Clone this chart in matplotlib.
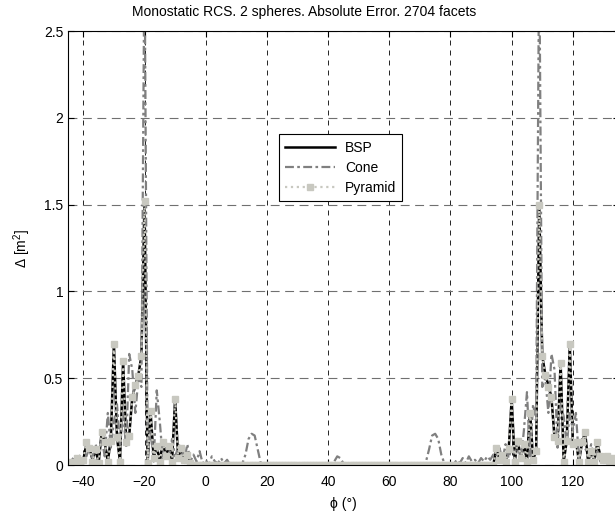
import numpy as np
import matplotlib
matplotlib.use("Agg")
import matplotlib.pyplot as plt

plt.rcParams["font.family"] = ["Liberation Sans", "DejaVu Sans"]
plt.rcParams["mathtext.fontset"] = "custom"
plt.rcParams["mathtext.rm"] = "Liberation Sans"
plt.rcParams["mathtext.it"] = "Liberation Sans:italic"

# incidence angle, 1 degree steps
phi = np.arange(-45, 136)

# phi = -45 .. -5
bsp_left = [0.01, 0.02, 0.00, 0.04, 0.01, 0.03, 0.12, 0.10, 0.03, 0.09,
            0.01, 0.19, 0.13, 0.02, 0.15, 0.70, 0.16, 0.02, 0.60, 0.14,
            0.17, 0.39, 0.46, 0.52, 0.63, 1.52, 0.01, 0.30, 0.04, 0.11,
            0.02, 0.13, 0.05, 0.11, 0.02, 0.38, 0.04, 0.10, 0.03, 0.07,
            0.01]
pyr_left = [0.01, 0.02, 0.01, 0.04, 0.01, 0.03, 0.13, 0.10, 0.02, 0.09,
            0.01, 0.19, 0.13, 0.02, 0.14, 0.70, 0.16, 0.02, 0.60, 0.13,
            0.17, 0.39, 0.46, 0.51, 0.63, 1.52, 0.01, 0.31, 0.04, 0.11,
            0.02, 0.13, 0.05, 0.11, 0.02, 0.38, 0.04, 0.10, 0.03, 0.06,
            0.01]
cone_left = [0.00, 0.02, 0.05, 0.01, 0.06, 0.03, 0.05, 0.10, 0.04, 0.12,
             0.06, 0.15, 0.05, 0.30, 0.10, 0.25, 0.35, 0.12, 0.30, 0.10,
             0.64, 0.55, 0.30, 0.50, 0.45, 3.00, 0.05, 0.20, 0.02, 0.43,
             0.25, 0.03, 0.10, 0.05, 0.15, 0.05, 0.10, 0.12, 0.03, 0.12,
             0.02]

# phi = -4 .. 94 (BSP and Pyramid are zero here)
cone_mid = [0.06, 0.02, 0.08, 0.01, 0.03, 0.00, 0.05, 0.02, 0.01, 0.04,
            0.01, 0.03, 0.00, 0.01, 0.00, 0.00, 0.01, 0.06, 0.15, 0.18,
            0.17, 0.09, 0.01, 0.00, 0.01, 0.00, 0.00, 0.00, 0.00, 0.00,
            0.00, 0.00, 0.00, 0.00, 0.00, 0.00, 0.00, 0.00, 0.00, 0.00,
            0.00, 0.00, 0.00, 0.00, 0.00, 0.00, 0.02, 0.05, 0.04, 0.01,
            0.00, 0.00, 0.00, 0.01, 0.00, 0.00, 0.00, 0.00, 0.00, 0.00,
            0.00, 0.00, 0.00, 0.00, 0.00, 0.00, 0.00, 0.00, 0.00, 0.00,
            0.00, 0.00, 0.00, 0.00, 0.01, 0.00, 0.02, 0.09, 0.17, 0.18,
            0.15, 0.06, 0.01, 0.00, 0.01, 0.00, 0.03, 0.01, 0.04, 0.01,
            0.05, 0.02, 0.03, 0.01, 0.04, 0.02, 0.05, 0.03, 0.06]

# phi = 95 .. 135
bsp_right = [0.10, 0.03, 0.06, 0.02, 0.08, 0.38, 0.02, 0.14, 0.04, 0.12,
             0.02, 0.31, 0.03, 0.08, 1.50, 0.63, 0.52, 0.46, 0.39, 0.16,
             0.14, 0.59, 0.02, 0.14, 0.70, 0.12, 0.14, 0.02, 0.13, 0.19,
             0.02, 0.08, 0.02, 0.13, 0.05, 0.03, 0.05, 0.02, 0.04, 0.01,
             0.02]
pyr_right = [0.10, 0.03, 0.06, 0.02, 0.09, 0.38, 0.02, 0.14, 0.04, 0.12,
             0.02, 0.30, 0.03, 0.08, 1.50, 0.63, 0.52, 0.45, 0.39, 0.16,
             0.14, 0.59, 0.02, 0.14, 0.70, 0.12, 0.13, 0.02, 0.13, 0.19,
             0.02, 0.08, 0.02, 0.13, 0.05, 0.03, 0.05, 0.02, 0.04, 0.01,
             0.02]
cone_right = [0.05, 0.10, 0.03, 0.12, 0.04, 0.10, 0.06, 0.15, 0.02, 0.20,
              0.42, 0.05, 0.35, 0.25, 3.00, 0.45, 0.50, 0.30, 0.64, 0.55,
              0.10, 0.35, 0.28, 0.12, 0.30, 0.20, 0.30, 0.03, 0.15, 0.10,
              0.05, 0.12, 0.03, 0.08, 0.02, 0.06, 0.01, 0.05, 0.02, 0.04,
              0.01]

mid_zeros = np.zeros(len(cone_mid))
bsp = np.concatenate([bsp_left, mid_zeros, bsp_right])
pyramid = np.concatenate([pyr_left, mid_zeros, pyr_right])
cone = np.concatenate([cone_left, cone_mid, cone_right])

x_ticks = [-40, -20, 0, 20, 40, 60, 80, 100, 120]
y_ticks = [0, 0.5, 1, 1.5, 2, 2.5]
y_tick_labels = ["0", "0.5", "1", "1.5", "2", "2.5"]

fig = plt.figure(figsize=(6.15, 5.16), dpi=100)
ax = fig.add_axes([0.1106, 0.0988, 0.8955, 0.841])

ax.plot(phi, bsp, color="black", lw=1.8, label="BSP")
ax.plot(phi, cone, color="#808080", lw=1.6, ls=(0, (4, 1.5, 1.2, 1.5)),
        label="Cone")
ax.plot(phi, pyramid, color="#c8c8c0", lw=1.6, ls=":", marker="s",
        ms=4, mec="#c8c8c0", mfc="#c8c8c0", label="Pyramid")

ax.set_xlim(-45, 135)
ax.set_ylim(0, 2.5)
ax.set_xticks(x_ticks)
ax.set_yticks(y_ticks)
ax.set_yticklabels(y_tick_labels)
ax.tick_params(direction="in", top=True, right=True, length=4, labelsize=10)
ax.tick_params(axis="x", pad=7)

ax.xaxis.grid(True, color="black", ls=(0, (6, 6)), lw=0.6)
ax.yaxis.grid(True, color="#707070", ls=(0, (8, 5)), lw=0.8)

ax.set_xlabel("ϕ (°)", fontsize=10, labelpad=6)
ax.set_ylabel("Δ [m$^2$]", fontsize=10, labelpad=8)
fig.text(0.495, 0.977, "Monostatic RCS. 2 spheres. Absolute Error. 2704 facets",
         ha="center", va="center", fontsize=10)

leg = ax.legend(loc="upper left", bbox_to_anchor=(0.383, 0.762), numpoints=1,
                fontsize=10, fancybox=False, edgecolor="black",
                framealpha=1, borderaxespad=0, handlelength=3.6,
                handletextpad=0.7, labelspacing=0.45, borderpad=0.45)
leg.get_frame().set_linewidth(0.8)

fig.savefig("out.png", dpi=100)
